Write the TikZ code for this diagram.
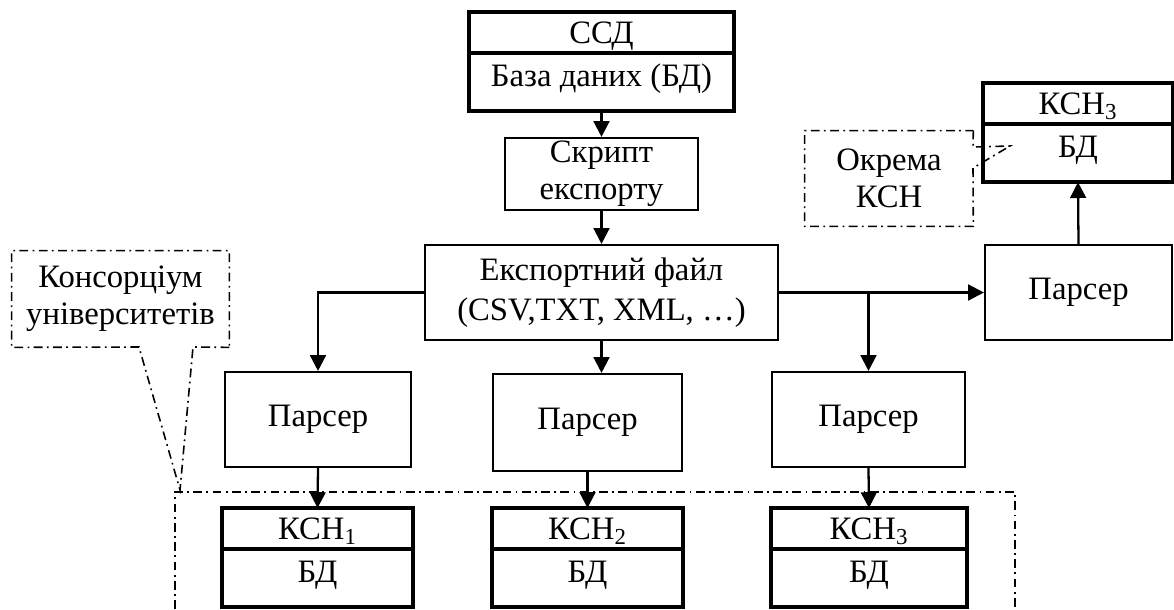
\documentclass[tikz,border=0pt]{standalone}
\usepackage{fontspec}
\setmainfont{Liberation Serif}
\usetikzlibrary{arrows.meta,calc}

\tikzset{
	blok/.style={draw, line width=1.2pt, inner sep=0pt, align=center},
	dbhead/.style={draw, line width=1.2pt, inner sep=0pt, minimum height=0.78cm, text height=0.45cm, text depth=0cm, anchor=north},
	dbbody/.style={draw, line width=1.2pt, inner sep=0pt, minimum height=1.12cm, text height=0.64cm, text depth=0.48cm, anchor=north},
	frame/.style={line width=2.4pt},
	arr/.style={line width=1.3pt, -{Triangle[width=9pt,length=9pt]}},
	dashdot/.style={line width=0.9pt, dash pattern=on 5pt off 2.5pt on 1pt off 2.5pt},
}

\begin{document}
\begin{tikzpicture}[x=0.02cm, y=-0.02cm, font=\fontsize{18.6pt}{21pt}\selectfont]
			%%%%% START %%%%%
			\useasboundingbox (0,0) rectangle (1174,609);
			
			\node[dbhead, minimum width=5.26cm] (ssdh) at (601.5,12) {ССД};
			\node[dbbody, minimum width=5.26cm] (ssdb) at (ssdh.south) {База даних (БД)};
			\draw[frame] (ssdh.north west) rectangle (ssdb.south east);
			
			\node[blok, minimum width=3.86cm, minimum height=1.44cm] (script) at (601.5,174) {Скрипт\\експорту};
			\node[blok, minimum width=7.06cm, minimum height=1.9cm, font=\fontsize{18.6pt}{23pt}\selectfont] (export) at (601.5,292.5) {Експортний файл\\(CSV,TXT, XML, …)};
			
			\node[blok, minimum width=3.72cm, minimum height=1.9cm] (pars1) at (318,419.5) {Парсер};
			\node[blok, minimum width=3.78cm, minimum height=1.94cm] (pars2) at (587.5,422.5) {Парсер};
			\node[blok, minimum width=3.86cm, minimum height=1.9cm] (pars3) at (868.5,419.5) {Парсер};
			\node[blok, minimum width=3.74cm, minimum height=1.9cm] (parsR) at (1078.5,292.5) {Парсер};
			
			\node[dbhead, minimum width=3.78cm] (ksh1h) at (317.5,508) {КСН\textsubscript{1}};
			\node[dbbody, minimum width=3.78cm] (ksh1b) at (ksh1h.south) {БД};
			\draw[frame] (ksh1h.north west) rectangle (ksh1b.south east);
			
			\node[dbhead, minimum width=3.78cm] (ksh2h) at (587.5,508) {КСН\textsubscript{2}};
			\node[dbbody, minimum width=3.78cm] (ksh2b) at (ksh2h.south) {БД};
			\draw[frame] (ksh2h.north west) rectangle (ksh2b.south east);
			
			\node[dbhead, minimum width=3.88cm] (ksh3h) at (869,508) {КСН\textsubscript{3}};
			\node[dbbody, minimum width=3.88cm] (ksh3b) at (ksh3h.south) {БД};
			\draw[frame] (ksh3h.north west) rectangle (ksh3b.south east);
			
			\node[dbhead, minimum width=3.76cm] (kshRh) at (1078,83) {КСН\textsubscript{3}};
			\node[dbbody, minimum width=3.76cm] (kshRb) at (kshRh.south) {БД};
			\draw[frame] (kshRh.north west) rectangle (kshRb.south east);
			
			% callouts
			\node[align=center, minimum width=3.36cm, minimum height=1.9cm, inner sep=0pt] (okr) at (889,178.5) {Окрема\\КСН};
			\coordinate (okrtip) at (1010,146);
			\draw[dashdot] (okr.north east) -- (973,147) -- (okrtip) -- (973,168) -- (okr.south east) -- (okr.south west) -- (okr.north west) -- cycle;
			
			\node[align=center, minimum width=4.34cm, minimum height=1.92cm, inner sep=0pt] (cons) at (120.5,299) {Консорціум\\університетів};
			\coordinate (constip) at (180,490);
			\draw[dashdot] (cons.south east) -- (193,347) -- (constip) -- (139,347) -- (cons.south west) -- (cons.north west) -- (cons.north east) -- cycle;
			
			\draw[dashdot] (175,609) -- (175,492) -- (1015,492) -- (1015,609);
			
			% arrows
			\draw[arr] (ssdb.south) -- (script.north);
			\draw[arr] (script.south) -- (export.north);
			\draw[arr] (export.south) -- (export.south |- pars2.north);
			\draw[arr] (export.west) -| (pars1.north);
			\draw[arr] (export.east) -- (parsR.west);
			\draw[arr] (export.east -| pars3.north) -- (pars3.north);
			\draw[arr] (parsR.north) -- (kshRb.south);
			\draw[arr] (pars1.south) -- (ksh1h.north);
			\draw[arr] (pars2.south) -- (ksh2h.north);
			\draw[arr] (pars3.south) -- (ksh3h.north);
			
			%%%%% END %%%%%
\end{tikzpicture}
\end{document}
